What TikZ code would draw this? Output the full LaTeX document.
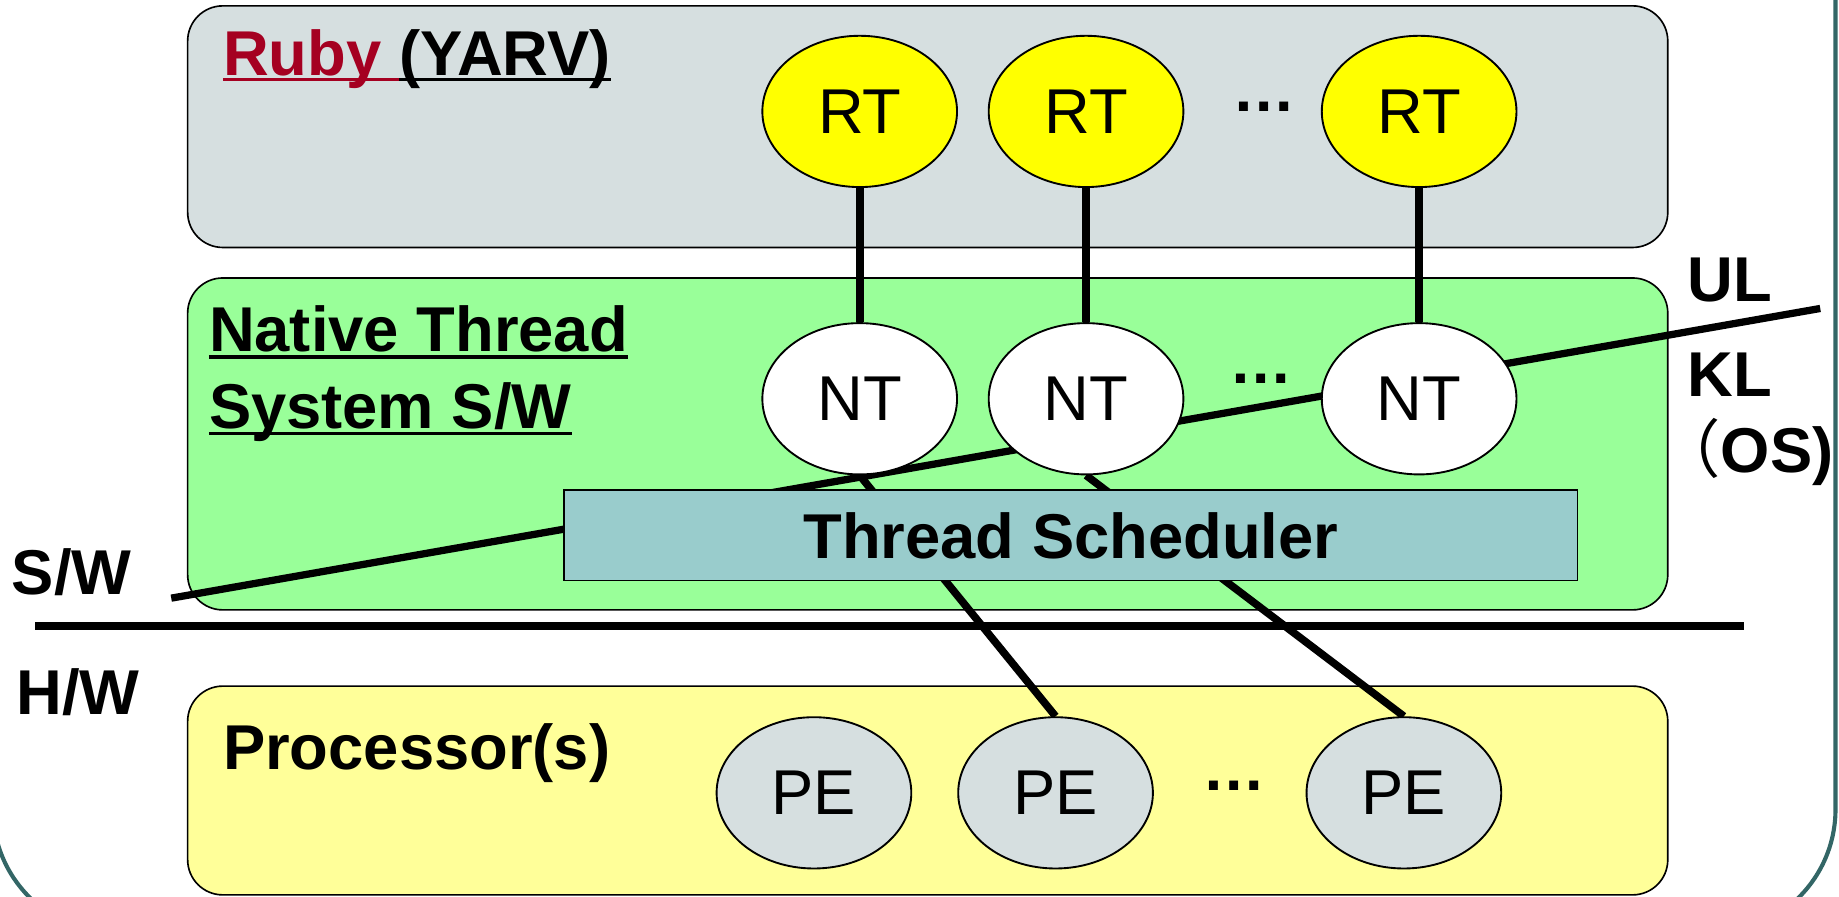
\documentclass[tikz,border=0pt]{standalone}
\usepackage{fontspec}
\setmainfont{Liberation Sans}
\newfontfamily\cjkfont{Noto Sans CJK JP}
\usetikzlibrary{shapes.geometric}
\definecolor{framecol}{HTML}{336666}
\definecolor{rubygray}{HTML}{D6DFE0}
\definecolor{natgreen}{HTML}{99FF99}
\definecolor{procyellow}{HTML}{FFFF99}
\definecolor{schedcol}{HTML}{99CCCC}
\definecolor{rtyellow}{HTML}{FFFF00}
\definecolor{rubyred}{HTML}{A50021}
\newcommand\labelsize{\fontsize{54}{65}\selectfont}
\pgfdeclarelayer{bg}
\pgfdeclarelayer{lines}
\pgfsetlayers{bg,lines,main}
\tikzset{
  region/.style={draw=black, line width=1.4pt, rounded corners=30pt},
  threadnode/.style={ellipse, draw=black, line width=1.6pt, minimum width=166pt,
    minimum height=129pt, inner sep=0pt, font=\labelsize},
  rtnode/.style={threadnode, fill=rtyellow},
  ntnode/.style={threadnode, fill=white},
  penode/.style={threadnode, fill=rubygray},
  schedbox/.style={rectangle, draw=black, line width=1.4pt, fill=schedcol,
    minimum width=864pt, minimum height=77pt, inner sep=0pt, font=\labelsize\bfseries},
  lbl/.style={inner sep=0pt, anchor=base west, font=\labelsize\bfseries},
  dotsnode/.style={inner sep=0pt, anchor=base, font=\labelsize\bfseries},
  conn/.style={line width=6.5pt},
  divider/.style={line width=6.2pt},
  uline/.style={line width=2.8pt}
}
\begin{document}
\begin{tikzpicture}[x=1pt, y=-1pt]
\useasboundingbox (0,0) rectangle (1568,764);
\begin{pgfonlayer}{bg}
  \begin{scope}
    \clip (0,0) rectangle (1568,764);
    \draw[framecol, line width=3.5pt, rounded corners=106pt] (-6,-200) rectangle (1565,796);
  \end{scope}
  \draw[region, fill=rubygray] (160,5) rectangle (1422,211);
  \draw[region, fill=natgreen] (160,237) rectangle (1422,520);
  \draw[region, fill=procyellow] (160,585) rectangle (1422,763);
\end{pgfonlayer}

% thread nodes
\node[rtnode] (rt1) at (733,95) {RT};
\node[rtnode] (rt2) at (926,95) {RT};
\node[rtnode] (rt3) at (1210,95) {RT};
\node[ntnode] (nt1) at (733,340) {NT};
\node[ntnode] (nt2) at (926,340) {NT};
\node[ntnode] (nt3) at (1210,340) {NT};
\node[penode] (pe1) at (694,676) {PE};
\node[penode] (pe2) at (900,676) {PE};
\node[penode] (pe3) at (1197,676) {PE};
\node[schedbox] (sched) at (913,456.5) {Thread Scheduler};

\node[dotsnode] (dotsrt) at (1078,95) {…};
\node[dotsnode] (dotsnt) at (1075,327) {…};
\node[dotsnode] (dotspe) at (1052,674) {…};

% UL/KL boundary end points
\coordinate (ulA) at (146,510);
\coordinate (ulB) at (1552,263);
\coordinate (hwA) at (30,534);
\coordinate (hwB) at (1487,534);

\begin{pgfonlayer}{lines}
  \draw[conn] (rt1.south) -- (nt1.north);
  \draw[conn] (rt2.south) -- (nt2.north);
  \draw[conn] (rt3.south) -- (nt3.north);
  \draw[conn] (nt1.south) -- (pe2.north);
  \draw[conn] (nt2.south) -- (pe3.north);
  \draw[divider] (ulA) -- (ulB);
\end{pgfonlayer}
\draw[line width=6.5pt] (hwA) -- (hwB);

% labels
\node[lbl] (ruby) at (190,64) {\color{rubyred}Ruby};
\node[lbl] (yarv) at ([xshift=15pt]ruby.base east) {(YARV)};
\draw[uline, rubyred] ([yshift=-4pt]ruby.base west) -- ([yshift=-4pt]yarv.base west);
\draw[uline] ([yshift=-4pt]yarv.base west) -- ([yshift=-4pt]yarv.base east);

\node[lbl] (nat1) at (178,300) {Native Thread};
\node[lbl] (nat2) at (178,365) {System S/W};
\draw[uline] ([yshift=-4.5pt]nat1.base west) -- ([yshift=-4.5pt]nat1.base east);
\draw[uline] ([yshift=-4.5pt]nat2.base west) -- ([yshift=-4.5pt]nat2.base east);

\node[lbl] (proc) at (190,656) {Processor(s)};
\node[lbl] (ul) at (1439,257) {UL};
\node[lbl] (kl) at (1439,338) {KL};
\node[lbl] (os) at (1413,403) {{\cjkfont\mdseries （}OS)};
\node[lbl] (sw) at (10,507) {S/W};
\node[lbl] (hw) at (14,609) {H/W};
\end{tikzpicture}
\end{document}
